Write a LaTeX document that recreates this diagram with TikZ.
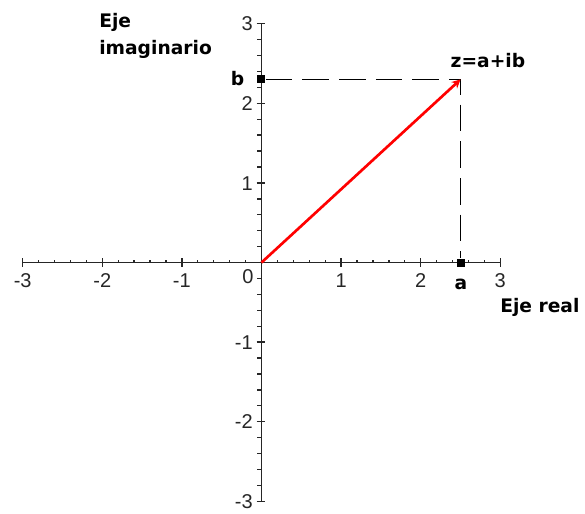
\documentclass[tikz,border=0pt]{standalone}
\usepackage{fontspec}
\setmainfont{Liberation Sans}
\newfontfamily\labfont{DejaVu Sans}
\usetikzlibrary{arrows.meta}
\begin{document}
\begin{tikzpicture}[x=59.7pt,y=59.7pt,
 axisline/.style={line width=1.3pt, black!85},
 majortick/.style={line width=1pt, black!85},
 minortick/.style={line width=1pt, black!85},
 ticklab/.style={font=\fontsize{15}{18}\selectfont, inner sep=0pt, text=black!85},
 boldlab/.style={font=\labfont\bfseries\fontsize{14}{20}\selectfont, inner sep=0pt},
 marker/.style={draw=none, fill=black, minimum size=6pt, inner sep=0pt, shape=rectangle},
 guide/.style={line width=1pt, dash pattern=on 20pt off 7.5pt},
 vec/.style={red, line width=2pt, -{Stealth[length=6.5pt,width=6.5pt]}}
]
\useasboundingbox (-3.285,-3.147) rectangle (4.064,3.298);
\coordinate (xl) at (-3,0);
\coordinate (xr) at (3,0);
\coordinate (yb) at (0,-3);
\coordinate (yt) at (0,3);
\coordinate (O) at (0,0);
\coordinate (z) at (2.5,2.3);
% axes
\draw[axisline] (xl) -- (xr);
\draw[axisline] (yb) -- (yt);
% minor ticks
\foreach \k in {-15,...,15} {
  \draw[minortick] (\k/5,0) -- (\k/5,0.035);
  \draw[minortick] (-0.055,\k/5) -- (0,\k/5);
}
% major ticks
\foreach \i in {-3,...,3} {
  \draw[majortick] (\i,-0.055) -- (\i,0.055);
  \draw[majortick] (-0.06,\i) -- (0.05,\i);
}
% tick labels
\foreach \i [count=\n] in {-3,-2,-1,1,2,3} {
  \node[ticklab, anchor=base] (xt\n) at (\i,-0.308) {\i};
  \node[ticklab, anchor=base east] (yt\n) at (-0.107,\i-0.09) {\i};
}
\node[ticklab, anchor=base] (zero) at (-0.17,-0.258) {0};
% point markers and guides
\node[marker] (b) at (0,2.3) {};
\node[marker] (a) at (2.5,0) {};
\draw[guide] (b) -- (z) -- (a);
\draw[vec] (O) -- (z);
% labels
\node[boldlab, anchor=base] (blab) at (-0.30,2.23) {b};
\node[boldlab, anchor=base] (zlab) at (2.845,2.456) {z=a+ib};
\node[boldlab, anchor=base] (alab) at (2.506,-0.345) {a};
\node[boldlab, anchor=base west] (xname) at (2.996,-0.634) {Eje real};
\node[boldlab, anchor=north west, align=left] (yname) at (-2.041,3.13) {Eje\\imaginario};
\end{tikzpicture}
\end{document}
